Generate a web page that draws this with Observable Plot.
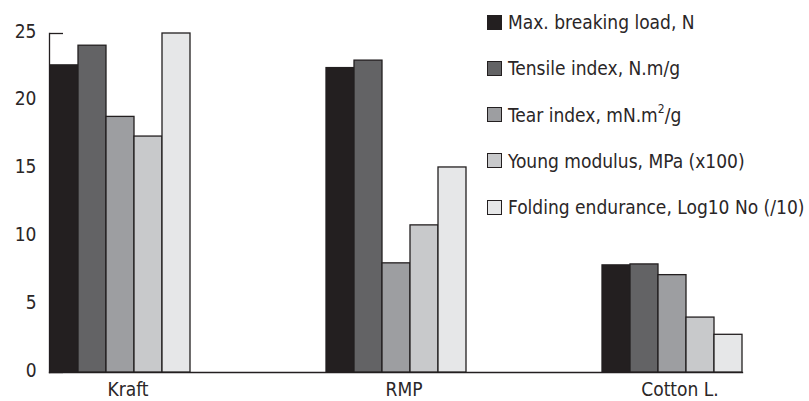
<!DOCTYPE html>
<html><head><meta charset="utf-8">
<script src="https://cdn.jsdelivr.net/npm/d3@7"></script>
<script src="https://cdn.jsdelivr.net/npm/@observablehq/plot@0.6"></script>
<style>
body{margin:0;background:#fff;}
#wrap{position:relative;width:809px;height:401px;font-family:"DejaVu Sans Condensed","DejaVu Sans",sans-serif;font-stretch:condensed;color:#2a2627;}
#legend{position:absolute;left:487px;top:0;}
.row{position:absolute;left:0;white-space:nowrap;font-size:19px;line-height:20px;display:flex;align-items:center;}
.sw{width:13px;height:13px;border:1.3px solid #231f20;margin-right:6px;box-sizing:content-box;}
sup{font-size:12px;line-height:0;position:relative;top:-1px;}
</style></head>
<body><div id="wrap"><div id="chart"></div><div id="legend"></div></div>
<script>
const categories = ["Kraft", "RMP", "Cotton L."];
const series = ["Max. breaking load, N", "Tensile index, N.m/g", "Tear index, mN.m2/g", "Young modulus, MPa (x100)", "Folding endurance, Log10 No (/10)"];
const seriesHtml = ["Max. breaking load, N", "Tensile index, N.m/g", "Tear index, mN.m<sup>2</sup>/g", "Young modulus, MPa (x100)", "Folding endurance, Log10 No (/10)"];
const kraft = [22.65, 24.1, 18.85, 17.4, 25.0];
const rmp = [22.45, 23.0, 8.05, 10.85, 15.12];
const cotton = [7.9, 7.97, 7.18, 4.05, 2.78];
const colors = ["#231f20", "#636365", "#9d9ea1", "#c8c9cb", "#e6e7e8"];
const yTicks = [0, 5, 10, 15, 20, 25];

const values = [kraft, rmp, cotton];
const data = [];
categories.forEach((c, i) => series.forEach((s, j) => data.push({cat: c, s, v: values[i][j]})));
const tickData = yTicks.map(v => ({cat: categories[0], s: series[0], v}));
const font = "DejaVu Sans Condensed, DejaVu Sans, sans-serif";

const chart = Plot.plot({
  width: 809, height: 401,
  marginLeft: 48, marginRight: 66, marginTop: 33, marginBottom: 29,
  style: {fontFamily: font, fontStretch: "condensed", fontSize: "19px", color: "#2a2627", background: "#fff"},
  fx: {domain: categories, paddingInner: 0.49, paddingOuter: 0, label: null, axis: null},
  x: {domain: series, padding: 0, axis: null},
  y: {domain: [0, 25], label: null, axis: null},
  color: {domain: series, range: colors},
  marks: [
    Plot.axisY(yTicks, {tickSize: 0, tickPadding: 13, dy: -2, label: null, fontSize: 19}),
    Plot.axisFx({anchor: "bottom", tickSize: 0, tickPadding: 10, dx: 8, label: null, fontSize: 19}),
    Plot.tickY(tickData, {fx: "cat", x: "s", y: "v", stroke: "#231f20", strokeWidth: 1.3, insetRight: 15}),
    Plot.frame({anchor: "left", facet: "super", stroke: "#231f20", strokeWidth: 1.3}),
    Plot.frame({anchor: "bottom", facet: "super", stroke: "#231f20", strokeWidth: 1.3}),
    Plot.barY(data, {fx: "cat", x: "s", y: "v", fill: "s", stroke: "#231f20", strokeWidth: 1.3})
  ]
});
document.getElementById("chart").appendChild(chart);

const legend = document.getElementById("legend");
seriesHtml.forEach((s, i) => {
  const row = document.createElement("div");
  row.className = "row";
  row.style.top = (12 + i * 46.3) + "px";
  row.innerHTML = `<span class="sw" style="background:${colors[i]}"></span><span>${s}</span>`;
  legend.appendChild(row);
});
</script></body></html>
